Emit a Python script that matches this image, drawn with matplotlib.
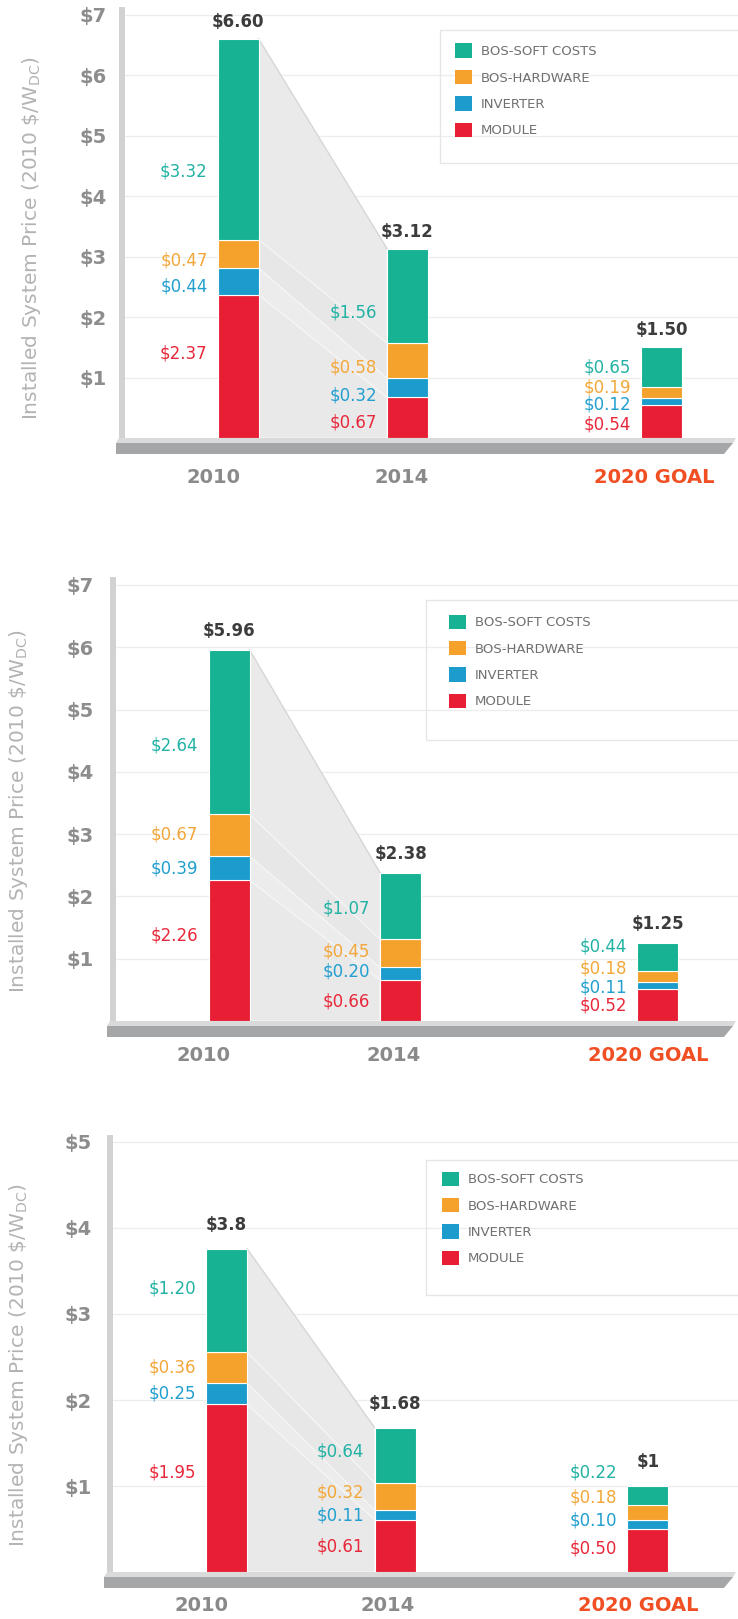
import numpy as np
import matplotlib.pyplot as plt
from matplotlib.patches import Patch, Polygon, Rectangle

# figure size in pixels
W, H = 738, 1619

# ---- data ----
components = ["BOS-SOFT COSTS", "BOS-HARDWARE", "INVERTER", "MODULE"]
years = ["2010", "2014", "2020 GOAL"]

# chart 1
soft_1 = [3.32, 1.56, 0.65]
hardware_1 = [0.47, 0.58, 0.19]
inverter_1 = [0.44, 0.32, 0.12]
module_1 = [2.37, 0.67, 0.54]
totals_1 = ["$6.60", "$3.12", "$1.50"]

# chart 2
soft_2 = [2.64, 1.07, 0.44]
hardware_2 = [0.67, 0.45, 0.18]
inverter_2 = [0.39, 0.20, 0.11]
module_2 = [2.26, 0.66, 0.52]
totals_2 = ["$5.96", "$2.38", "$1.25"]

# chart 3
soft_3 = [1.20, 0.64, 0.22]
hardware_3 = [0.36, 0.32, 0.18]
inverter_3 = [0.25, 0.11, 0.10]
module_3 = [1.95, 0.61, 0.50]
totals_3 = ["$3.8", "$1.68", "$1"]

charts = [
    (soft_1, hardware_1, inverter_1, module_1, totals_1),
    (soft_2, hardware_2, inverter_2, module_2, totals_2),
    (soft_3, hardware_3, inverter_3, module_3, totals_3),
]

# ---- styles ----
bar_colors = ["#16b293", "#f4a22c", "#1c9ccc", "#e81f34"]
text_colors = ["#22b2a4", "#f3a73a", "#229fcf", "#e8283a"]
goal_color = "#f04e23"
tick_gray = "#8d8d8d"

x_slots = np.array([0, 1, 2.5])

# ---- layout (pixels, measured from the top of the image) ----
layouts = [
    dict(axis_x=122, zero_y=438, ppd=60.5, top_y=10, bar0=238, unit=169.5, ymax=7,
         ytick_pad=15, year_dx=[-24, -6, -8], year_pad=30, total_off=17,
         label_y=[[4.4, 2.94, 2.50, 1.40], [2.08, 1.16, 0.71, 0.25], [1.17, 0.83, 0.55, 0.22]],
         ylabel=(32, 238), leg_sq=(455, 52), leg_box=(440, 30, 740, 163)),
    dict(axis_x=113, zero_y=1021, ppd=62.3, top_y=580, bar0=229, unit=171.5, ymax=7,
         ytick_pad=19, year_dx=[-26, -7, -9], year_pad=25, total_off=19,
         label_y=[[4.43, 2.99, 2.44, 1.38], [1.81, 1.11, 0.79, 0.32], [1.19, 0.85, 0.53, 0.25]],
         ylabel=(19, 811), leg_sq=(449, 623), leg_box=(426, 600, 740, 740)),
    dict(axis_x=110, zero_y=1572, ppd=86, top_y=1138, bar0=226.5, unit=168.5, ymax=5,
         ytick_pad=18, year_dx=[-25, -7, -10], year_pad=24, total_off=24,
         label_y=[[3.30, 2.38, 2.07, 1.16], [1.40, 0.92, 0.66, 0.30], [1.16, 0.87, 0.60, 0.27]],
         ylabel=(19, 1365), leg_sq=(442, 1180), leg_box=(426, 1160, 740, 1295)),
]

plt.rcParams['font.family'] = ['DejaVu Sans']

fig = plt.figure(figsize=(W / 100, H / 100), dpi=100)
fig.patch.set_facecolor("white")


def fx(x):
    return x / W


def fy(y):
    return 1 - y / H


ylabel_text = r"Installed System Price (2010 \$/W$_{\mathregular{DC}}$)"

for (soft, hardware, inverter, module, totals), p in zip(charts, layouts):
    unit = p["unit"]
    ax = fig.add_axes([fx(p["axis_x"]), fy(p["zero_y"]),
                       (W - p["axis_x"]) / W, (p["zero_y"] - p["top_y"]) / H])
    ax.set_facecolor("none")
    ax.set_xlim(-(p["bar0"] - p["axis_x"]) / unit, (W - p["bar0"]) / unit)
    ax.set_ylim(0, (p["zero_y"] - p["top_y"]) / p["ppd"])
    bw = 41 / unit

    # stacked bars, bottom to top: module, inverter, hardware, soft
    series = [soft, hardware, inverter, module]
    stack_order = [3, 2, 1, 0]
    bottom = np.zeros(3)
    cums = [bottom.copy()]
    for k in stack_order:
        vals = np.array(series[k])
        ax.bar(x_slots, vals, bw, bottom=bottom, color=bar_colors[k],
               edgecolor="white", linewidth=0.8, zorder=3)
        bottom = bottom + vals
        cums.append(bottom.copy())
    tops = bottom

    # grey "shadow" between 2010 and 2014 bars
    xr0 = x_slots[0] + bw / 2
    xl1 = x_slots[1] - bw / 2
    shades = ["#e9e9e9", "#ececec", "#e7e7e7", "#eaeaea"]
    for i in range(4):
        poly = Polygon([(xr0, cums[i][0]), (xl1, cums[i][1]),
                        (xl1, cums[i + 1][1]), (xr0, cums[i + 1][0])],
                       closed=True, facecolor=shades[i], edgecolor="#f6f6f6",
                       linewidth=0.8, zorder=2)
        ax.add_patch(poly)
    ax.plot([xr0, xl1], [tops[0], tops[1]], color="#d6d6d6", lw=1, zorder=2)

    # segment value labels
    for j in range(3):
        for k in range(4):
            ax.text(x_slots[j] - bw / 2 - 10 / unit, p["label_y"][j][k],
                    f"${series[k][j]:.2f}", ha="right", va="center",
                    fontsize=12, color=text_colors[k], zorder=4)
        ax.annotate(totals[j], xy=(x_slots[j], tops[j]),
                    xytext=(0, p["total_off"] * 0.72), textcoords="offset points",
                    ha="center", va="center", fontsize=12, fontweight="bold",
                    color="#3c3c3c")

    # axes styling
    yt = np.arange(1, p["ymax"] + 1)
    ax.set_yticks(yt)
    ax.set_yticklabels([f"${v}" for v in yt], fontweight="bold")
    ax.tick_params(axis="y", length=0, pad=p["ytick_pad"] * 0.72,
                   labelsize=14, labelcolor=tick_gray)
    ax.yaxis.grid(True, color="#ededed", linewidth=0.9)
    ax.set_axisbelow(True)

    ax.set_xticks(x_slots + np.array(p["year_dx"]) / unit)
    ax.set_xticklabels(years, fontweight="bold")
    ax.tick_params(axis="x", length=0, pad=p["year_pad"] * 0.72,
                   labelsize=14, labelcolor="#8a8a8a")
    ax.get_xticklabels()[2].set_color(goal_color)

    for s in ["top", "right", "bottom"]:
        ax.spines[s].set_visible(False)
    ax.spines["left"].set_linewidth(4.3)
    ax.spines["left"].set_color("#d2d2d2")

    # legend
    handles = [Patch(facecolor=c) for c in bar_colors]
    sx, sy = p["leg_sq"]
    leg = ax.legend(handles, components, loc="upper left",
                    bbox_to_anchor=(fx(sx), fy(sy - 8.5)),
                    bbox_transform=fig.transFigure, frameon=False,
                    fontsize=9.5, handlelength=1.29, handleheight=1.29,
                    labelspacing=0.9, handletextpad=0.68,
                    borderpad=0, borderaxespad=0)
    for t in leg.get_texts():
        t.set_color("#707070")
    x0, y0, x1, y1 = p["leg_box"]
    fig.add_artist(Rectangle((fx(x0), fy(y1)), (x1 - x0) / W, (y1 - y0) / H,
                             transform=fig.transFigure, fill=False,
                             edgecolor="#e6e6e6", linewidth=1))

    # 3D-looking floor under the bars
    ax_x, z = p["axis_x"], p["zero_y"]
    top_face = [(ax_x - 3, z), (736, z), (733, z + 5), (ax_x - 6, z + 5)]
    front = [(ax_x - 6, z + 5), (733, z + 5), (724, z + 16), (ax_x - 6, z + 16)]
    fig.add_artist(Polygon([(fx(a), fy(b)) for a, b in top_face], closed=True,
                           transform=fig.transFigure, facecolor="#dadada",
                           edgecolor="none"))
    fig.add_artist(Polygon([(fx(a), fy(b)) for a, b in front], closed=True,
                           transform=fig.transFigure, facecolor="#a4a6a8",
                           edgecolor="none"))

    # y axis title
    cx, cy = p["ylabel"]
    fig.text(fx(cx), fy(cy), ylabel_text, rotation=90, ha="center", va="center",
             fontsize=14.5, color="#b3b3b3")

fig.savefig("out.png", dpi=100, facecolor="white")
